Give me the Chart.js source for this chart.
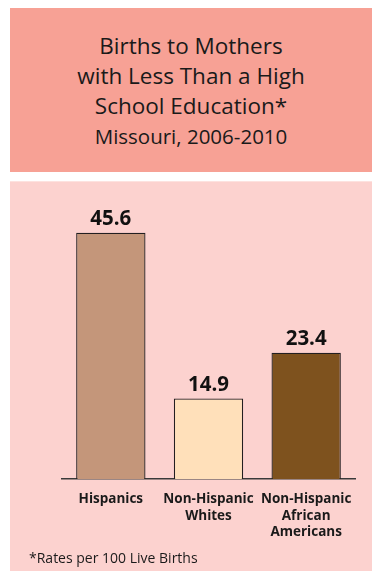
<!DOCTYPE html>
<html>
<head>
<meta charset="utf-8">
<script src="https://cdn.jsdelivr.net/npm/chart.js@4"></script>
<style>
  html, body { margin: 0; padding: 0; background: #fff; }
  body { width: 372px; height: 571px; position: relative; overflow: hidden; font-family: "Open Sans", sans-serif; }
  #titleBox {
    position: absolute; left: 10px; top: 8px; width: 362px; height: 164px;
    background: #f7a195; color: #1a1a1a; text-align: center;
  }
  #titleBox .main { position: absolute; left: 0; right: 0; top: 23px; font-size: 22.5px; line-height: 30px; }
  #titleBox .sub { position: absolute; left: 0; right: 0; top: 114px; font-size: 20.5px; line-height: 28px; }
  #plotBox {
    position: absolute; left: 10px; top: 181px; width: 362px; height: 390px;
    background: #fcd2cf; border-top: 1px solid #fde2df; box-sizing: border-box;
  }
  #note { position: absolute; left: 29px; top: 549px; font-size: 14px; line-height: 18px; color: #1a1a1a; }
  #chartWrap { position: absolute; left: 0; top: 0; width: 372px; height: 571px; }
</style>
</head>
<body>
<div id="titleBox">
  <div class="main">Births to Mothers<br>with Less Than a High<br>School Education*</div>
  <div class="sub">Missouri, 2006-2010</div>
</div>
<div id="plotBox"></div>
<div id="chartWrap"><canvas id="birthChart" width="372" height="571"></canvas></div>
<div id="note">*Rates per 100 Live Births</div>

<script>
const groups = [['Hispanics'], ['Non-Hispanic', 'Whites'], ['Non-Hispanic', 'African', 'Americans']];
const rates = [45.6, 14.9, 23.4];
const barColors = ['#c4967a', '#ffe0ba', '#7e521e'];

// prints each rate just above its bar
const valueLabels = {
  id: 'valueLabels',
  afterDatasetsDraw(chart) {
    const ctx = chart.ctx;
    const meta = chart.getDatasetMeta(0);
    ctx.save();
    ctx.font = 'bold 20.5px "Open Sans", sans-serif';
    ctx.fillStyle = '#111';
    ctx.textAlign = 'center';
    ctx.textBaseline = 'bottom';
    meta.data.forEach((bar, i) => {
      ctx.fillText(rates[i].toFixed(1), bar.x, bar.y - 3);
    });
    ctx.restore();
  }
};

const ctx = document.getElementById('birthChart').getContext('2d');
const birthChart = new Chart(ctx, {
  type: 'bar',
  data: {
    labels: groups,
    datasets: [{
      data: rates,
      backgroundColor: barColors,
      borderColor: '#231f20',
      borderWidth: 1.3,
      barPercentage: 0.71,
      categoryPercentage: 1
    }]
  },
  options: {
    responsive: false,
    animation: false,
    layout: { padding: { left: 62, right: 17, top: 209, bottom: 32 } },
    plugins: {
      legend: { display: false },
      tooltip: { enabled: false }
    },
    scales: {
      x: {
        grid: { display: false, drawTicks: false },
        border: { display: true, color: '#3a3a3a', width: 1.5 },
        ticks: {
          color: '#1a1a1a',
          padding: 12,
          font: { family: '"Open Sans", sans-serif', size: 13.5, weight: 'bold', lineHeight: 1.22 },
          maxRotation: 0,
          autoSkip: false
        },
        afterFit(scale) { scale.height = 60; }
      },
      y: {
        display: false,
        min: 0,
        max: 50
      }
    }
  },
  plugins: [valueLabels]
});
</script>
</body>
</html>
